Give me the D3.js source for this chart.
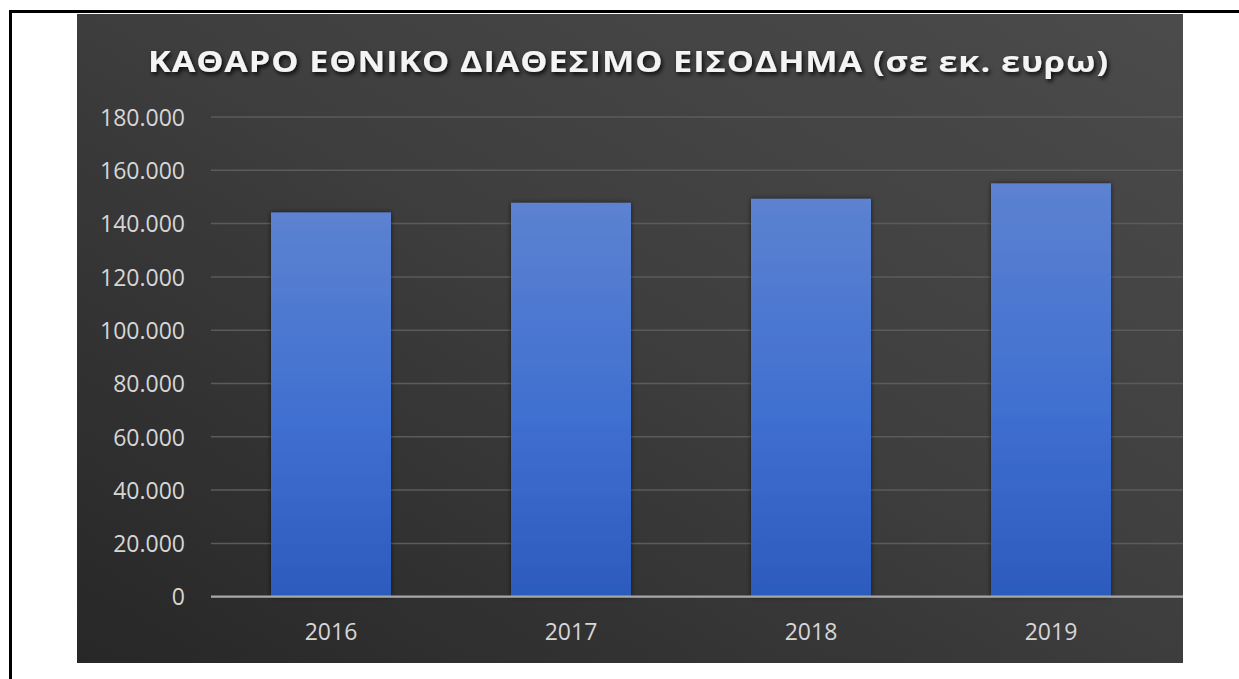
<!DOCTYPE html>
<html lang="el">
<head>
<meta charset="utf-8">
<script src="https://cdn.jsdelivr.net/npm/d3@7"></script>
<style>
  html, body { margin: 0; padding: 0; background: #ffffff; }
  svg { display: block; }
</style>
</head>
<body>
<svg id="chart" width="1239" height="679"></svg>
<script>
// Net national disposable income, million euro
const years = ["2016", "2017", "2018", "2019"];
const income = [144200, 147800, 149300, 155100];
const yTicks = [0, 20000, 40000, 60000, 80000, 100000, 120000, 140000, 160000, 180000];
const titleText = "ΚΑΘΑΡΟ ΕΘΝΙΚΟ ΔΙΑΘΕΣΙΜΟ ΕΙΣΟΔΗΜΑ (σε εκ. ευρω)";

const svg = d3.select("#chart");
const W = 1239, H = 679;

// Greek number formatting: dot as thousands separator
const grLocale = d3.formatLocale({ decimal: ",", thousands: ".", grouping: [3], currency: ["", " €"] });
const fmt = grLocale.format(",d");

const defs = svg.append("defs");

const bg = defs.append("linearGradient").attr("id", "bgGrad")
  .attr("x1", 0).attr("y1", 1).attr("x2", 1).attr("y2", 0);
bg.append("stop").attr("offset", "0%").attr("stop-color", "#272727");
bg.append("stop").attr("offset", "55%").attr("stop-color", "#3f3f3f");
bg.append("stop").attr("offset", "100%").attr("stop-color", "#4b4b4b");

const barGrad = defs.append("linearGradient").attr("id", "barGrad")
  .attr("x1", 0).attr("y1", 0).attr("x2", 0).attr("y2", 1);
barGrad.append("stop").attr("offset", "0%").attr("stop-color", "#5c82d1");
barGrad.append("stop").attr("offset", "55%").attr("stop-color", "#3f6fd0");
barGrad.append("stop").attr("offset", "100%").attr("stop-color", "#2c5bbd");

const barShadow = defs.append("filter").attr("id", "barShadow")
  .attr("x", "-10%").attr("y", "-10%").attr("width", "120%").attr("height", "120%");
barShadow.append("feDropShadow").attr("dx", 0).attr("dy", 0)
  .attr("stdDeviation", 2.5).attr("flood-color", "#000").attr("flood-opacity", 0.6);

const titleShadow = defs.append("filter").attr("id", "titleShadow")
  .attr("x", "-5%").attr("y", "-30%").attr("width", "110%").attr("height", "160%");
titleShadow.append("feDropShadow").attr("dx", 1.5).attr("dy", 2.5)
  .attr("stdDeviation", 2).attr("flood-color", "#000").attr("flood-opacity", 0.85);

// Page frame (top and left rules)
svg.append("rect").attr("x", 9).attr("y", 10).attr("width", W - 9).attr("height", 3).attr("fill", "#000");
svg.append("rect").attr("x", 9).attr("y", 10).attr("width", 3).attr("height", H - 10).attr("fill", "#000");

// Chart panel
const panel = { x: 77, y: 14, w: 1106, h: 649 };
svg.append("rect")
  .attr("x", panel.x).attr("y", panel.y)
  .attr("width", panel.w).attr("height", panel.h)
  .attr("fill", "url(#bgGrad)");

// Scales
const plotLeft = 211, plotRight = 1183;
const x = d3.scaleBand().domain(years).range([211, 1171])
  .paddingInner(0.5).paddingOuter(0.25);
const y = d3.scaleLinear().domain([0, 180000]).range([596.7, 117]);

// Gridlines
svg.append("g").selectAll("line")
  .data(yTicks.filter(d => d > 0))
  .join("line")
  .attr("x1", plotLeft).attr("x2", plotRight)
  .attr("y1", d => y(d)).attr("y2", d => y(d))
  .attr("stroke", "#5b5b5b").attr("stroke-width", 1.5);

// Y axis labels
const yAxis = d3.axisLeft(y).tickValues(yTicks).tickFormat(fmt).tickSize(0).tickPadding(0);
const gy = svg.append("g").attr("transform", "translate(185,0)").call(yAxis);
gy.select(".domain").remove();
gy.selectAll("text")
  .attr("fill", "#d6d6d6")
  .attr("font-family", "'Open Sans', sans-serif")
  .attr("font-size", 23)
  .attr("dy", "0.36em");

// Bars
svg.append("g").selectAll("rect")
  .data(years.map((yr, i) => ({ yr, v: income[i] })))
  .join("rect")
  .attr("x", d => x(d.yr))
  .attr("y", d => y(d.v))
  .attr("width", x.bandwidth())
  .attr("height", d => y(0) - y(d.v))
  .attr("fill", "url(#barGrad)")
  .attr("filter", "url(#barShadow)");

// Baseline
svg.append("line")
  .attr("x1", plotLeft).attr("x2", plotRight)
  .attr("y1", y(0)).attr("y2", y(0))
  .attr("stroke", "#a8a8a8").attr("stroke-width", 2.2);

// X axis labels
const xAxis = d3.axisBottom(x).tickSize(0).tickPadding(0);
const gx = svg.append("g").attr("transform", "translate(0,640)").call(xAxis);
gx.select(".domain").remove();
gx.selectAll("text")
  .attr("fill", "#d6d6d6")
  .attr("font-family", "'Open Sans', sans-serif")
  .attr("font-size", 23)
  .attr("dy", 0)
  .attr("y", 0);

// Title: glyphs widened horizontally, spread across the panel
const titleStretch = 1.18;
svg.append("text")
  .attr("transform", `translate(148,72) scale(${titleStretch},1)`)
  .attr("x", 0).attr("y", 0)
  .attr("textLength", 960 / titleStretch).attr("lengthAdjust", "spacing")
  .attr("fill", "#f4f4f4")
  .attr("font-family", "'Open Sans', sans-serif")
  .attr("font-weight", 700)
  .attr("font-size", 29)
  .attr("filter", "url(#titleShadow)")
  .text(titleText);
</script>
</body>
</html>
